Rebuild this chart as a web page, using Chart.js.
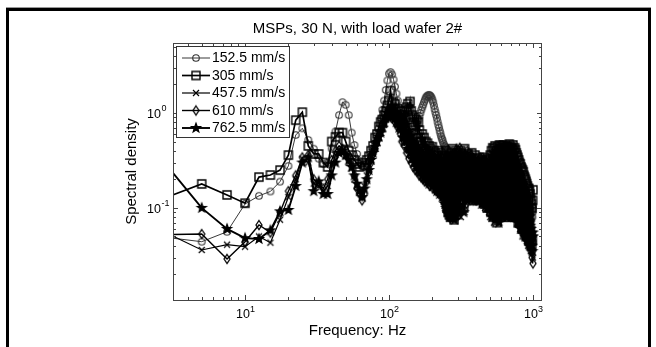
<!DOCTYPE html>
<html>
<head>
<meta charset="utf-8">
<title>MSPs spectral density</title>
<script src="https://cdn.jsdelivr.net/npm/chart.js@4.4.0/dist/chart.umd.min.js"></script>
<style>
    html, body { margin: 0; padding: 0; background: #fff; }
    #wrap { position: relative; width: 656px; height: 347px; }
</style>
</head>
<body>
<div id="wrap"><canvas id="psd-chart" width="656" height="347"></canvas></div>
<script>
// Frequency bins (Hz)
const freqLow = [2.5, 5, 7.5, 10, 12.5, 15, 17.5, 20, 22.5, 25, 27.5, 30,
    32.5, 35, 37.5, 40, 42.5, 45, 47.5, 50, 52.5, 55, 57.5, 60,
    62.5, 65, 67.5, 70, 72.5, 75, 77.5, 80, 82.5, 85, 87.5, 90,
    92.5, 95, 97.5, 100, 102.5, 105, 107.5, 110, 112.5, 115, 117.5, 120];
const freqMid = [122.5, 125, 127.5, 130, 132.5, 135, 137.5, 140, 142.5, 145, 147.5, 150,
    152.5, 155, 157.5, 160, 162.5, 165, 167.5, 170, 172.5, 175, 177.5, 180,
    182.5, 185, 187.5, 190, 192.5, 195, 197.5, 200, 202.5, 205, 207.5, 210,
    212.5, 215, 217.5, 220, 222.5, 225, 227.5, 230, 232.5, 235, 237.5, 240,
    242.5, 245, 247.5, 250, 252.5, 255, 257.5, 260, 262.5, 265, 267.5, 270,
    272.5, 275, 277.5, 280, 282.5, 285, 287.5, 290, 292.5, 295, 297.5, 300];
const freqHigh = [305, 310, 315, 320, 325, 330, 335, 340, 345, 350,
    355, 360, 365, 370, 375, 380, 385, 390, 395, 400,
    405, 410, 415, 420, 425, 430, 435, 440, 445, 450,
    455, 460, 465, 470, 475, 480, 485, 490, 495, 500,
    505, 510, 515, 520, 525, 530, 535, 540, 545, 550,
    555, 560, 565, 570, 575, 580, 585, 590, 595, 600,
    605, 610, 615, 620, 625, 630, 635, 640, 645, 650,
    655, 660, 665, 670, 675, 680, 685, 690, 695, 700,
    705, 710, 715, 720, 725, 730, 735, 740, 745, 750,
    755, 760, 765, 770, 775, 780, 785, 790, 795, 800,
    805, 810, 815, 820, 825, 830, 835, 840, 845, 850,
    855, 860, 865, 870, 875, 880, 885, 890, 895, 900,
    905, 910, 915, 920, 925, 930, 935, 940, 945, 950,
    955, 960, 965, 970, 975, 980, 985, 990, 995, 1000];

const speedLabels = ['152.5 mm/s', '305 mm/s', '457.5 mm/s', '610 mm/s', '762.5 mm/s'];

// spectral density per sliding speed (low / mid / high bins)
const psd152 = [
    0.05, 0.044, 0.056, 0.11, 0.134, 0.149, 0.189, 0.277, 0.586, 0.69, 0.52, 0.42,
    0.33, 0.29, 0.3, 0.42, 0.64, 0.95, 1.3, 1.22, 0.95, 0.62, 0.46, 0.37,
    0.31, 0.28, 0.27, 0.29, 0.31, 0.35, 0.41, 0.48, 0.58, 0.7, 0.88, 1.08,
    1.35, 1.75, 2.2, 2.6, 2.7, 2.55, 2.25, 1.9, 1.6, 1.35, 1.15, 1.0,
    0.92, 0.85, 0.78, 0.72, 0.67, 0.62, 0.59, 0.56, 0.55, 0.55, 0.57, 0.6,
    0.64, 0.7, 0.77, 0.85, 0.93, 1.0, 1.08, 1.15, 1.22, 1.3, 1.38, 1.45,
    1.49, 1.52, 1.54, 1.55, 1.53, 1.5, 1.45, 1.38, 1.3, 1.2, 1.1, 1.02,
    0.95, 0.88, 0.81, 0.75, 0.7, 0.65, 0.61, 0.57, 0.54, 0.52, 0.49, 0.47,
    0.45, 0.44, 0.43, 0.42, 0.41, 0.4, 0.38, 0.37, 0.36, 0.35, 0.34, 0.33,
    0.33, 0.32, 0.31, 0.3, 0.32, 0.31, 0.29, 0.29, 0.31, 0.3, 0.29, 0.28,
    0.27, 0.29, 0.26, 0.3, 0.25, 0.28, 0.27, 0.24, 0.29, 0.26,
    0.24, 0.27, 0.3, 0.28, 0.26, 0.23, 0.25, 0.28, 0.24, 0.25,
    0.23, 0.22, 0.26, 0.25, 0.24, 0.21, 0.2, 0.23, 0.25, 0.27,
    0.26, 0.24, 0.25, 0.22, 0.21, 0.24, 0.25, 0.27, 0.24, 0.26,
    0.28, 0.27, 0.25, 0.28, 0.3, 0.29, 0.27, 0.26, 0.24, 0.27,
    0.29, 0.3, 0.31, 0.28, 0.26, 0.27, 0.28, 0.3, 0.27, 0.25,
    0.28, 0.3, 0.29, 0.27, 0.31, 0.32, 0.3, 0.28, 0.27, 0.25,
    0.27, 0.3, 0.29, 0.27, 0.25, 0.24, 0.27, 0.28, 0.27, 0.26,
    0.25, 0.23, 0.26, 0.27, 0.24, 0.22, 0.23, 0.25, 0.21, 0.2,
    0.22, 0.23, 0.2, 0.19, 0.21, 0.18, 0.19, 0.2, 0.18, 0.17,
    0.18, 0.17, 0.19, 0.16, 0.15, 0.17, 0.16, 0.14, 0.15, 0.14,
    0.15, 0.14, 0.13, 0.15, 0.13, 0.12, 0.13, 0.14, 0.12, 0.12,
    0.11, 0.12, 0.11, 0.13, 0.1, 0.11, 0.1, 0.12, 0.09, 0.1,
    0.1, 0.09, 0.11, 0.09, 0.08, 0.1, 0.09, 0.08, 0.09, 0.1];
const psd305 = [
    0.12, 0.179, 0.137, 0.112, 0.211, 0.222, 0.25, 0.36, 0.84, 1.02, 0.45, 0.37,
    0.37, 0.3, 0.27, 0.5, 0.56, 0.62, 0.62, 0.5, 0.4, 0.36, 0.32, 0.29,
    0.27, 0.3, 0.28, 0.32, 0.35, 0.4, 0.45, 0.55, 0.6, 0.72, 0.8, 0.85,
    0.95, 1.05, 1.2, 1.35, 1.72, 1.3, 1.1, 1.25, 0.95, 1.1, 0.9, 1.05,
    0.95, 0.8, 1.05, 0.9, 1.15, 1.25, 1.1, 1.32, 1.05, 0.95, 0.8, 0.9,
    0.75, 0.85, 0.6, 0.8, 0.66, 0.55, 0.5, 0.6, 0.42, 0.55, 0.4, 0.5,
    0.35, 0.48, 0.3, 0.45, 0.28, 0.42, 0.25, 0.44, 0.22, 0.4, 0.2, 0.38,
    0.19, 0.36, 0.18, 0.4, 0.17, 0.35, 0.16, 0.38, 0.15, 0.33, 0.15, 0.36,
    0.13, 0.34, 0.12, 0.4, 0.1, 0.3, 0.09, 0.35, 0.085, 0.32, 0.08, 0.38,
    0.09, 0.42, 0.08, 0.3, 0.075, 0.36, 0.09, 0.4, 0.1, 0.33, 0.085, 0.38,
    0.38, 0.14, 0.4, 0.12, 0.36, 0.1, 0.42, 0.13, 0.35, 0.15,
    0.37, 0.13, 0.34, 0.16, 0.38, 0.12, 0.33, 0.14, 0.36, 0.13,
    0.33, 0.15, 0.3, 0.12, 0.34, 0.14, 0.31, 0.13, 0.32, 0.12,
    0.3, 0.11, 0.34, 0.12, 0.32, 0.1, 0.33, 0.11, 0.31, 0.1,
    0.36, 0.09, 0.4, 0.11, 0.43, 0.08, 0.42, 0.1, 0.45, 0.09,
    0.4, 0.07, 0.44, 0.1, 0.41, 0.09, 0.46, 0.11, 0.42, 0.08,
    0.45, 0.1, 0.43, 0.09, 0.46, 0.11, 0.41, 0.08, 0.44, 0.1,
    0.42, 0.09, 0.45, 0.12, 0.4, 0.1, 0.47, 0.09, 0.43, 0.11,
    0.44, 0.1, 0.42, 0.08, 0.46, 0.1, 0.4, 0.09, 0.43, 0.08,
    0.41, 0.09, 0.38, 0.08, 0.36, 0.09, 0.34, 0.07, 0.32, 0.08,
    0.3, 0.07, 0.29, 0.08, 0.27, 0.07, 0.26, 0.06, 0.25, 0.07,
    0.24, 0.06, 0.22, 0.07, 0.21, 0.06, 0.2, 0.055, 0.19, 0.06,
    0.18, 0.05, 0.17, 0.055, 0.16, 0.05, 0.16, 0.045, 0.15, 0.05,
    0.14, 0.045, 0.12, 0.05, 0.11, 0.04, 0.1, 0.045, 0.12, 0.155];
const psd457 = [
    0.06, 0.036, 0.041, 0.039, 0.05, 0.043, 0.075, 0.13, 0.2, 0.33, 0.3, 0.18,
    0.17, 0.15, 0.17, 0.28, 0.36, 0.4, 0.38, 0.35, 0.3, 0.26, 0.2, 0.17,
    0.15, 0.14, 0.17, 0.22, 0.28, 0.35, 0.4, 0.45, 0.5, 0.55, 0.62, 0.7,
    0.75, 0.85, 0.95, 1.0, 1.1, 0.95, 1.05, 0.85, 0.95, 0.75, 0.85, 0.65,
    0.6, 0.85, 0.5, 0.75, 0.45, 0.65, 0.4, 0.6, 0.35, 0.55, 0.32, 0.5,
    0.3, 0.48, 0.28, 0.45, 0.26, 0.42, 0.25, 0.4, 0.23, 0.38, 0.22, 0.36,
    0.2, 0.35, 0.19, 0.4, 0.18, 0.33, 0.2, 0.37, 0.17, 0.32, 0.18, 0.3,
    0.16, 0.34, 0.17, 0.3, 0.15, 0.36, 0.16, 0.28, 0.15, 0.33, 0.14, 0.3,
    0.12, 0.28, 0.11, 0.33, 0.1, 0.27, 0.09, 0.3, 0.08, 0.26, 0.09, 0.32,
    0.08, 0.28, 0.075, 0.35, 0.08, 0.25, 0.09, 0.3, 0.08, 0.38, 0.09, 0.3,
    0.09, 0.32, 0.08, 0.3, 0.1, 0.36, 0.09, 0.28, 0.12, 0.34,
    0.12, 0.3, 0.13, 0.35, 0.12, 0.32, 0.13, 0.29, 0.12, 0.33,
    0.13, 0.3, 0.12, 0.27, 0.13, 0.31, 0.12, 0.26, 0.11, 0.3,
    0.11, 0.28, 0.1, 0.32, 0.11, 0.27, 0.1, 0.3, 0.09, 0.29,
    0.08, 0.33, 0.09, 0.38, 0.08, 0.35, 0.07, 0.4, 0.08, 0.36,
    0.07, 0.41, 0.09, 0.37, 0.08, 0.43, 0.07, 0.39, 0.09, 0.42,
    0.08, 0.38, 0.09, 0.44, 0.08, 0.4, 0.1, 0.43, 0.08, 0.39,
    0.09, 0.45, 0.08, 0.41, 0.1, 0.38, 0.09, 0.44, 0.08, 0.4,
    0.09, 0.42, 0.08, 0.39, 0.09, 0.44, 0.08, 0.37, 0.09, 0.4,
    0.08, 0.36, 0.09, 0.33, 0.08, 0.3, 0.07, 0.29, 0.08, 0.27,
    0.07, 0.26, 0.06, 0.24, 0.07, 0.23, 0.06, 0.21, 0.05, 0.2,
    0.06, 0.19, 0.05, 0.18, 0.06, 0.17, 0.05, 0.16, 0.05, 0.15,
    0.045, 0.14, 0.05, 0.13, 0.04, 0.12, 0.045, 0.11, 0.04, 0.1,
    0.04, 0.09, 0.035, 0.08, 0.04, 0.07, 0.035, 0.06, 0.04, 0.03];
const psd610 = [
    0.052, 0.053, 0.029, 0.044, 0.066, 0.055, 0.09, 0.15, 0.22, 0.34, 0.36, 0.2,
    0.18, 0.16, 0.2, 0.32, 0.4, 0.45, 0.42, 0.4, 0.33, 0.28, 0.22, 0.16,
    0.14, 0.12, 0.14, 0.19, 0.24, 0.3, 0.37, 0.42, 0.5, 0.58, 0.65, 0.75,
    0.82, 0.9, 1.0, 0.95, 1.05, 0.88, 0.98, 0.8, 0.9, 0.7, 0.8, 0.6,
    0.5, 0.7, 0.45, 0.8, 0.38, 0.6, 0.33, 0.55, 0.3, 0.5, 0.27, 0.45,
    0.25, 0.42, 0.24, 0.5, 0.22, 0.4, 0.21, 0.38, 0.2, 0.35, 0.19, 0.33,
    0.22, 0.3, 0.18, 0.36, 0.17, 0.3, 0.19, 0.28, 0.16, 0.33, 0.17, 0.27,
    0.15, 0.3, 0.16, 0.26, 0.14, 0.32, 0.15, 0.25, 0.14, 0.3, 0.13, 0.28,
    0.11, 0.3, 0.1, 0.25, 0.09, 0.32, 0.1, 0.28, 0.085, 0.3, 0.08, 0.25,
    0.09, 0.32, 0.08, 0.27, 0.1, 0.35, 0.085, 0.3, 0.09, 0.42, 0.1, 0.35,
    0.2, 0.43, 0.12, 0.25, 0.1, 0.38, 0.15, 0.22, 0.11, 0.4,
    0.15, 0.24, 0.13, 0.36, 0.16, 0.22, 0.12, 0.33, 0.18, 0.25,
    0.12, 0.3, 0.16, 0.22, 0.13, 0.34, 0.15, 0.2, 0.12, 0.28,
    0.14, 0.25, 0.11, 0.3, 0.15, 0.22, 0.1, 0.29, 0.13, 0.24,
    0.11, 0.31, 0.09, 0.26, 0.14, 0.35, 0.1, 0.28, 0.12, 0.37,
    0.08, 0.3, 0.13, 0.38, 0.09, 0.27, 0.14, 0.34, 0.1, 0.3,
    0.12, 0.36, 0.09, 0.28, 0.15, 0.38, 0.1, 0.3, 0.13, 0.35,
    0.09, 0.29, 0.14, 0.4, 0.1, 0.32, 0.12, 0.36, 0.09, 0.28,
    0.13, 0.37, 0.1, 0.3, 0.14, 0.38, 0.09, 0.3, 0.12, 0.33,
    0.1, 0.3, 0.12, 0.26, 0.09, 0.24, 0.11, 0.22, 0.08, 0.2,
    0.09, 0.21, 0.07, 0.18, 0.08, 0.19, 0.06, 0.16, 0.07, 0.17,
    0.06, 0.15, 0.07, 0.14, 0.05, 0.13, 0.06, 0.12, 0.05, 0.12,
    0.05, 0.11, 0.045, 0.1, 0.05, 0.09, 0.04, 0.1, 0.045, 0.08,
    0.04, 0.085, 0.035, 0.07, 0.04, 0.06, 0.03, 0.055, 0.035, 0.026];
const psd762 = [
    0.36, 0.1, 0.06, 0.048, 0.047, 0.058, 0.092, 0.095, 0.17, 0.3, 0.34, 0.15,
    0.19, 0.14, 0.14, 0.22, 0.3, 0.38, 0.4, 0.36, 0.32, 0.27, 0.22, 0.18,
    0.15, 0.13, 0.16, 0.2, 0.25, 0.32, 0.38, 0.44, 0.5, 0.56, 0.62, 0.7,
    0.8, 0.9, 1.0, 1.1, 0.9, 1.2, 0.95, 1.0, 0.8, 0.9, 0.7, 0.75,
    0.7, 0.55, 0.9, 0.5, 0.75, 0.42, 0.65, 0.38, 0.58, 0.33, 0.5, 0.3,
    0.45, 0.27, 0.42, 0.25, 0.4, 0.24, 0.38, 0.22, 0.36, 0.21, 0.34, 0.2,
    0.33, 0.19, 0.35, 0.18, 0.3, 0.2, 0.32, 0.17, 0.3, 0.18, 0.28, 0.16,
    0.3, 0.15, 0.27, 0.16, 0.31, 0.14, 0.26, 0.15, 0.28, 0.13, 0.25, 0.14,
    0.27, 0.11, 0.3, 0.1, 0.25, 0.09, 0.28, 0.085, 0.26, 0.08, 0.3, 0.09,
    0.25, 0.08, 0.32, 0.09, 0.27, 0.075, 0.3, 0.085, 0.35, 0.09, 0.3, 0.1,
    0.25, 0.1, 0.3, 0.14, 0.22, 0.09, 0.28, 0.16, 0.24, 0.12,
    0.27, 0.14, 0.22, 0.13, 0.29, 0.15, 0.24, 0.12, 0.26, 0.14,
    0.22, 0.13, 0.25, 0.12, 0.21, 0.14, 0.26, 0.11, 0.23, 0.13,
    0.2, 0.11, 0.24, 0.12, 0.21, 0.1, 0.25, 0.11, 0.22, 0.1,
    0.27, 0.1, 0.3, 0.08, 0.25, 0.11, 0.33, 0.09, 0.28, 0.1,
    0.35, 0.08, 0.3, 0.11, 0.34, 0.07, 0.29, 0.1, 0.36, 0.09,
    0.31, 0.1, 0.35, 0.08, 0.28, 0.11, 0.37, 0.09, 0.32, 0.1,
    0.34, 0.08, 0.3, 0.11, 0.38, 0.09, 0.33, 0.1, 0.29, 0.08,
    0.35, 0.1, 0.31, 0.09, 0.33, 0.1, 0.28, 0.08, 0.3, 0.09,
    0.27, 0.08, 0.25, 0.09, 0.23, 0.07, 0.22, 0.08, 0.2, 0.07,
    0.19, 0.07, 0.18, 0.06, 0.17, 0.07, 0.15, 0.06, 0.14, 0.06,
    0.13, 0.055, 0.12, 0.06, 0.11, 0.05, 0.11, 0.055, 0.1, 0.05,
    0.09, 0.05, 0.085, 0.045, 0.08, 0.05, 0.075, 0.045, 0.07, 0.04,
    0.065, 0.045, 0.06, 0.04, 0.055, 0.04, 0.05, 0.035, 0.055, 0.05];

// axis ticks
const xMajor = [10, 100, 1000];
const xMajorExp = ['1', '2', '3'];
const xMinor = [4, 5, 6, 7, 8, 9, 20, 30, 40, 50, 60, 70, 80, 90,
    200, 300, 400, 500, 600, 700, 800, 900];
const yMajor = [0.1, 1];
const yMajorExp = ['-1', '0'];
const yMinor = [0.02, 0.03, 0.04, 0.05, 0.06, 0.07, 0.08, 0.09,
    0.2, 0.3, 0.4, 0.5, 0.6, 0.7, 0.8, 0.9, 2, 3, 4, 5];

const FONT = '"Liberation Sans", Arial, sans-serif';

const frequencies = freqLow.concat(freqMid, freqHigh);

function makeMarker(kind, color, lw) {
    const c = document.createElement('canvas');
    c.width = 14;
    c.height = 14;
    const g = c.getContext('2d');
    const m = 7;
    g.strokeStyle = color;
    g.fillStyle = color;
    g.lineWidth = lw;
    g.beginPath();
    if (kind === 'circle') {
        g.arc(m, m, 3.3, 0, Math.PI * 2);
    } else if (kind === 'square') {
        g.rect(m - 4, m - 4, 8, 8);
    } else if (kind === 'x') {
        g.moveTo(m - 3, m - 3); g.lineTo(m + 3, m + 3);
        g.moveTo(m + 3, m - 3); g.lineTo(m - 3, m + 3);
    } else if (kind === 'diamond') {
        g.moveTo(m, m - 4.5); g.lineTo(m + 3, m);
        g.lineTo(m, m + 4.5); g.lineTo(m - 3, m);
        g.closePath();
    } else if (kind === 'star') {
        for (let k = 0; k < 10; k++) {
            const r = k % 2 ? 2 : 4.8;
            const a = -Math.PI / 2 + k * Math.PI / 5;
            const px = m + r * Math.cos(a), py = m + r * Math.sin(a);
            if (k) g.lineTo(px, py); else g.moveTo(px, py);
        }
        g.closePath();
        g.fill();
    }
    g.stroke();
    return c;
}

const seriesStyles = [
    { values: psd152, color: '#222', width: 0.9, marker: makeMarker('circle', '#333', 1.1) },
    { values: psd305, color: '#000', width: 1.7, marker: makeMarker('square', '#000', 1.4) },
    { values: psd457, color: '#000', width: 1.2, marker: makeMarker('x', '#000', 1.2) },
    { values: psd610, color: '#000', width: 1.4, marker: makeMarker('diamond', '#000', 1.3) },
    { values: psd762, color: '#000', width: 1.9, marker: makeMarker('star', '#000', 1.2) }
];

const datasets = seriesStyles.map((s, i) => ({
    label: speedLabels[i],
    data: frequencies.map((f, j) => ({ x: f, y: s.values[j] })),
    borderColor: s.color,
    borderWidth: s.width,
    pointStyle: s.marker,
    pointRadius: 3,
    pointHoverRadius: 3,
    tension: 0,
    fill: false,
    clip: 0,
    order: 5 - i
}));

// MATLAB-like frame: box, inward ticks, 10^n labels, legend and title
const matlabFrame = {
    id: 'matlabFrame',
    beforeDraw(chart) {
        const ctx = chart.ctx;
        ctx.save();
        ctx.fillStyle = '#fff';
        ctx.fillRect(0, 0, chart.width, chart.height);
        ctx.fillStyle = '#999';
        ctx.fillRect(6, 7, 645, 1);
        ctx.fillStyle = '#000';
        ctx.fillRect(6, 8, 645, 3);
        ctx.fillRect(6, 8, 3, chart.height);
        ctx.fillRect(648, 8, 3, chart.height);
        ctx.restore();
    },
    afterDatasetsDraw(chart) {
        const ctx = chart.ctx;
        const a = chart.chartArea;
        const xs = chart.scales.x, ys = chart.scales.y;
        ctx.save();

        // axes box
        ctx.strokeStyle = '#444';
        ctx.lineWidth = 1;
        ctx.strokeRect(a.left + 0.5, a.top + 0.5, a.right - a.left - 1, a.bottom - a.top);

        const tick = (vals, len) => {
            ctx.beginPath();
            vals.forEach(v => {
                const px = Math.round(xs.getPixelForValue(v)) + 0.5;
                if (px < a.left || px > a.right) return;
                ctx.moveTo(px, a.bottom); ctx.lineTo(px, a.bottom - len);
                ctx.moveTo(px, a.top); ctx.lineTo(px, a.top + len);
            });
            ctx.stroke();
        };
        const ytick = (vals, len) => {
            ctx.beginPath();
            vals.forEach(v => {
                const py = Math.round(ys.getPixelForValue(v)) + 0.5;
                if (py < a.top || py > a.bottom) return;
                ctx.moveTo(a.left, py); ctx.lineTo(a.left + len, py);
                ctx.moveTo(a.right, py); ctx.lineTo(a.right - len, py);
            });
            ctx.stroke();
        };
        tick(xMinor, 3);
        tick(xMajor, 5);
        ytick(yMinor, 3);
        ytick(yMajor, 5);

        // tick labels
        ctx.fillStyle = '#000';
        ctx.textBaseline = 'alphabetic';
        ctx.textAlign = 'left';
        xMajor.forEach((v, i) => {
            const px = xs.getPixelForValue(v);
            ctx.font = '12.5px ' + FONT;
            ctx.fillText('10', px - 9, 318);
            ctx.font = '9px ' + FONT;
            ctx.fillText(xMajorExp[i], px + 5, 311.5);
        });
        yMajor.forEach((v, i) => {
            const py = ys.getPixelForValue(v);
            ctx.font = '12.5px ' + FONT;
            ctx.fillText('10', 147, py + 5);
            ctx.font = '9px ' + FONT;
            ctx.fillText(yMajorExp[i], 161.5, py - 2);
        });

        // title
        ctx.font = '15px ' + FONT;
        ctx.textAlign = 'center';
        ctx.fillText('MSPs, 30 N, with load wafer 2#', (a.left + a.right) / 2, 33);

        // legend
        ctx.fillStyle = '#fff';
        ctx.fillRect(176.5, 46.5, 113, 91);
        ctx.strokeStyle = '#333';
        ctx.lineWidth = 1;
        ctx.strokeRect(176.5, 46.5, 113, 91);
        ctx.font = '14px ' + FONT;
        ctx.textAlign = 'left';
        ctx.textBaseline = 'middle';
        chart.data.datasets.forEach((ds, i) => {
            const ly = 58 + i * 17.5;
            ctx.strokeStyle = ds.borderColor;
            ctx.lineWidth = ds.borderWidth;
            ctx.beginPath();
            ctx.moveTo(182, ly);
            ctx.lineTo(210, ly);
            ctx.stroke();
            const mk = ds.pointStyle;
            ctx.drawImage(mk, 196 - mk.width / 2, ly - mk.height / 2);
            ctx.fillStyle = '#000';
            ctx.fillText(ds.label, 212, ly + 0.5);
        });
        ctx.restore();
    }
};

const psdChart = new Chart(document.getElementById('psd-chart'), {
    type: 'line',
    data: { datasets: datasets },
    options: {
        responsive: false,
        animation: false,
        devicePixelRatio: 1,
        layout: { padding: { top: 43, right: 114, bottom: 0, left: 0 } },
        plugins: {
            legend: { display: false },
            title: { display: false },
            tooltip: { enabled: false }
        },
        scales: {
            x: {
                type: 'logarithmic',
                min: 3.16,
                max: 1155,
                grid: { display: false },
                border: { display: false },
                ticks: { display: false },
                title: {
                    display: true,
                    text: 'Frequency: Hz',
                    color: '#000',
                    font: { family: FONT, size: 15 },
                    padding: { top: 0, bottom: 7.5 }
                },
                afterFit: s => { s.height = 47; }
            },
            y: {
                type: 'logarithmic',
                min: 0.0107,
                max: 5.46,
                grid: { display: false },
                border: { display: false },
                ticks: { display: false },
                title: {
                    display: true,
                    text: 'Spectral density',
                    color: '#000',
                    font: { family: FONT, size: 15 },
                    padding: { top: 122.5, bottom: 0 }
                },
                afterFit: s => { s.width = 173; }
            }
        }
    },
    plugins: [matlabFrame]
});
</script>
</body>
</html>
